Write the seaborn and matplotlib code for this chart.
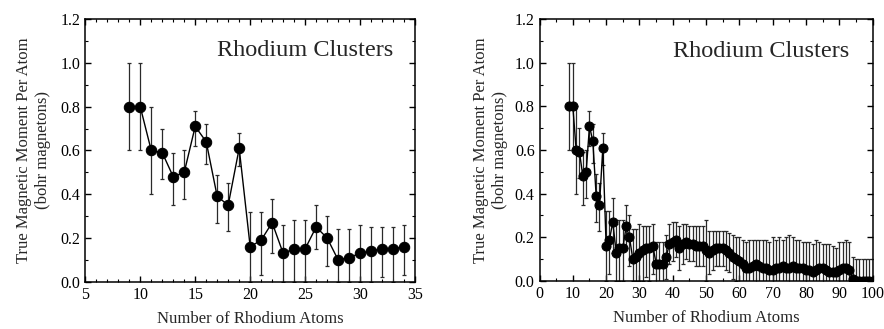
import numpy as np
import pandas as pd
import matplotlib
matplotlib.use("Agg")
import matplotlib.pyplot as plt
from matplotlib.ticker import MultipleLocator
import seaborn as sns

# ---- data ----
atoms_small = list(range(9, 35))
moment_small = [0.80, 0.80, 0.60, 0.59, 0.48, 0.50, 0.71, 0.64, 0.39, 0.35,
                0.61, 0.16, 0.19, 0.27, 0.13, 0.15, 0.15, 0.25, 0.20, 0.10,
                0.11, 0.13, 0.14, 0.15, 0.15, 0.16]
low_small = [0.60, 0.60, 0.40, 0.47, 0.35, 0.38, 0.62, 0.54, 0.27, 0.23,
             0.53, 0.00, 0.03, 0.13, 0.00, 0.00, 0.00, 0.15, 0.07, 0.00,
             0.00, 0.00, 0.00, 0.02, 0.00, 0.03]
high_small = [1.00, 1.00, 0.80, 0.70, 0.59, 0.60, 0.78, 0.72, 0.49, 0.45,
              0.68, 0.32, 0.32, 0.38, 0.26, 0.28, 0.28, 0.35, 0.30, 0.24,
              0.24, 0.26, 0.25, 0.25, 0.25, 0.26]

atoms_large = list(range(35, 101))
moment_large = [0.08, 0.08, 0.08, 0.11, 0.17, 0.18, 0.19, 0.15, 0.17, 0.18,
                0.17, 0.17, 0.16, 0.16, 0.16, 0.14, 0.13, 0.14, 0.15, 0.15,
                0.15, 0.14, 0.13, 0.11, 0.10, 0.09, 0.08, 0.06, 0.06, 0.07,
                0.08, 0.07, 0.06, 0.06, 0.05, 0.05, 0.06, 0.06, 0.07, 0.06,
                0.06, 0.07, 0.06, 0.06, 0.06, 0.05, 0.05, 0.04, 0.05, 0.06,
                0.06, 0.05, 0.04, 0.04, 0.04, 0.05, 0.06, 0.06, 0.05, 0.01,
                0.00, 0.00, 0.00, 0.00, 0.00, 0.00]
err_large = [0.10, 0.10, 0.10, 0.10, 0.09, 0.09, 0.08, 0.10, 0.09, 0.08,
             0.08, 0.08, 0.09, 0.09, 0.09, 0.14, 0.10, 0.09, 0.08, 0.08,
             0.08, 0.09, 0.09, 0.10, 0.10, 0.11, 0.11, 0.12, 0.13, 0.12,
             0.11, 0.12, 0.13, 0.13, 0.13, 0.15, 0.13, 0.14, 0.12, 0.14,
             0.15, 0.13, 0.13, 0.13, 0.12, 0.13, 0.13, 0.13, 0.14, 0.12,
             0.11, 0.12, 0.13, 0.12, 0.11, 0.13, 0.12, 0.13, 0.13, 0.10,
             0.10, 0.10, 0.10, 0.10, 0.10, 0.10]

title_text = "Rhodium Clusters"
ylabel_text = "True Magnetic Moment Per Atom\n(bohr magnetons)"
xlabel_text = "Number of Rhodium Atoms"

# ---- build frames ----
df_small = pd.DataFrame({"atoms": atoms_small, "moment": moment_small,
                         "low": low_small, "high": high_small})
m_l = np.array(moment_large)
e_l = np.array(err_large)
df_large = pd.DataFrame({"atoms": atoms_large, "moment": moment_large,
                         "low": m_l - e_l, "high": m_l + e_l})
df_all = pd.concat([df_small, df_large], ignore_index=True)

sns.set_theme(style="ticks")
plt.rcParams["font.family"] = ["Liberation Serif", "DejaVu Serif"]

fig = plt.figure(figsize=(8.84, 3.29), dpi=100)
ax1 = fig.add_axes([0.0965, 0.1438, 0.373, 0.7976])
ax2 = fig.add_axes([0.6103, 0.1460, 0.3770, 0.7960])


def draw(ax, df, msize, xlim, xmaj, xmin, txt_x, txt_y, lpad):
    yerr = np.vstack([df["moment"] - df["low"], df["high"] - df["moment"]])
    ax.errorbar(df["atoms"], df["moment"], yerr=yerr, fmt="none",
                ecolor="#2a2a2a", elinewidth=0.9, capsize=1.5, capthick=0.9,
                zorder=2)
    sns.lineplot(data=df, x="atoms", y="moment", ax=ax, color="black",
                 linewidth=1.0, marker="o", markersize=msize,
                 markeredgecolor="black", markerfacecolor="black",
                 zorder=3, legend=False)
    ax.set_xlim(*xlim)
    ax.set_ylim(0, 1.2)
    ax.xaxis.set_major_locator(MultipleLocator(xmaj))
    ax.xaxis.set_minor_locator(MultipleLocator(xmin))
    ax.yaxis.set_major_locator(MultipleLocator(0.2))
    ax.yaxis.set_minor_locator(MultipleLocator(0.1))
    ax.yaxis.set_major_formatter(matplotlib.ticker.FormatStrFormatter("%.1f"))
    ax.tick_params(which="both", direction="in", top=True, right=True,
                   labelsize=11.5, colors="black")
    ax.tick_params(which="major", length=4.5, width=1)
    ax.tick_params(which="minor", length=2.5, width=0.8)
    for s in ax.spines.values():
        s.set_color("black")
        s.set_linewidth(1.1)
    ax.set_xlabel(xlabel_text, fontsize=12, labelpad=6)
    ax.set_ylabel(ylabel_text, fontsize=12, labelpad=lpad, linespacing=1.25)
    ax.text(txt_x, txt_y, title_text, transform=ax.transAxes, ha="right",
            va="center", fontsize=17.5)


draw(ax1, df_small, 7.5, (5, 35), 5, 1, 0.935, 0.88, 7)
draw(ax2, df_all, 6.5, (0, 100), 10, 5, 0.93, 0.875, 5)

fig.savefig("out.png", dpi=100, facecolor="white")
